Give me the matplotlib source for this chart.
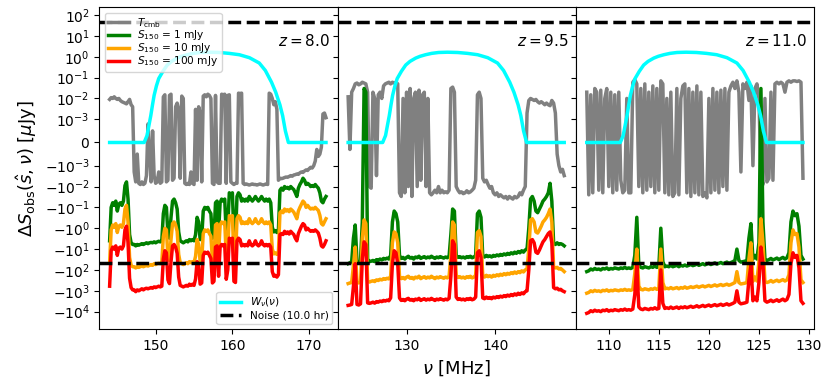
import numpy as np
import matplotlib
matplotlib.use('Agg')
import matplotlib.pyplot as plt
from matplotlib.ticker import FixedLocator, NullLocator

# ---------------- data ----------------
redshifts = ['8.0', '9.5', '11.0']
nu_start = [144.0, 123.4, 107.8]          # MHz, first channel of each panel
nu_step = 0.2                              # MHz channel spacing
window_edges = [(148.5, 167.3), (127.3, 143.55), (111.15, 125.75)]
noise_level = 44.0                         # muJy (10.0 hr)
xlims = [(142.65, 173.7), (122.2, 149.1), (106.7, 130.5)]
xticks_list = [[150, 160, 170], [130, 140], [110, 115, 120, 125, 130]]
yticks = [1e2, 1e1, 1e0, 1e-1, 1e-2, 1e-3, 0, -1e-3, -1e-2, -1e-1, -1e0, -1e1, -1e2, -1e3, -1e4]

# window W_nu: fractional position across window and value
w_frac = [0, 0.02, 0.035, 0.046, 0.058, 0.069, 0.085, 0.101, 0.13, 0.16, 0.19,
          0.229, 0.26, 0.298, 0.34, 0.388, 0.45, 0.521, 0.59, 0.66, 0.73,
          0.798, 0.84, 0.883, 0.912, 0.941, 0.96, 0.979, 1.0]
w_val = [0, 0.0003, 0.0008, 0.0015, 0.005, 0.014, 0.04, 0.09, 0.2, 0.4, 0.6,
         0.86, 1.05, 1.25, 1.45, 1.6, 1.65, 1.6, 1.45, 1.25, 0.9,
         0.5, 0.22, 0.06, 0.02, 0.005, 0.0015, 0.0005, 0]

# ---- panel 1 (z = 8.0) ----
tcmb_p1 = [0.009, 0.011, 0.010, 0.012, 0.010, 0.009, 0.010, 0.008, 0.007, 0.0065,
           0.006, 0.0055, 0.007, 0.009, 0.005, 0.004, -0.002, -0.006, -0.0005, -0.007,
           -0.008, -0.006, -0.008, -0.007, -0.003, 0.0008, -0.0005, -0.006, 0.0005, -0.003,
           -0.007, -0.006, -0.002, -0.007, -0.006, 0.012, 0.015, -0.006, -0.005, 0.014,
           0.016, -0.005, -0.004, 0.004, 0.006, 0.003, -0.004, 0.013, 0.010, -0.007,
           -0.008, -0.007, -0.008, -0.002, -0.007, -0.008, 0.003, -0.005, 0.004, 0.002,
           -0.006, 0.013, 0.015, 0.012, 0.016, 0.014, 0.010, -0.007, -0.008, 0.014,
           -0.006, -0.007, -0.007, 0.016, 0.015, 0.016, -0.007, 0.014, 0.015, -0.006,
           -0.007, -0.008, -0.007, -0.007, 0.018, 0.017, 0.018, -0.007,
           -0.008, -0.0075, -0.008, -0.0085, -0.008, -0.0075, -0.008, -0.008,
           -0.0085, -0.008, -0.0075, -0.008, -0.0085, -0.008, -0.0075, -0.008,
           0.018, 0.016, 0.01, 0.005, 0.007, 0.003, -0.005, -0.004,
           -0.0042, -0.004, -0.0037, -0.0035, -0.0036, -0.0033, -0.003, -0.0032, -0.0028, -0.0027,
           -0.0025, -0.0026, -0.0022, -0.002, -0.0021, -0.0018, -0.0016, -0.0017, -0.0014, -0.0012,
           -0.0013, -0.001, -0.0008, -0.0003, -0.0006, -0.0005, -0.0002, 0.0018, 0.002, 0.0012]
s1_p1 = [-4, -0.1, -0.06, -0.08, -0.05, -0.15, -0.07, -0.06, -0.08, -0.05,
         -0.009, -0.006, -0.04, -2, -5, -6, -6, -7, -6, -6.5,
         -6, -5.5, -6, -5.5, -5, -5.5, -5, -4.8, -5, -4.5,
         -5, -4.5, -4.2, -4.5, -4, -0.2, -0.08, -0.1, -2, -3,
         -0.3, -0.05, -0.04, -0.06, -0.12, -1.5, -4, -4.5, -5, -4.5,
         -4, -4.5, -3.5, -4, -3.5, -4, -2, -0.3, -0.5, -3.5,
         -3, -0.15, -0.1, -0.12, -0.1, -0.15, -0.2, -3, -2.5, -0.06,
         -0.05, -1.5, -0.06, -0.04, -0.05, -0.04, -2, -0.8, -0.02, -0.025,
         -0.02, -2.5, -3, -0.03, -0.02, -0.025, -0.05, -0.04, -0.05, -0.04,
         -0.05, -0.03, -0.04, -0.05, -0.04, -0.03, -0.04, -0.05, -0.04, -0.03,
         -0.04, -0.05, -0.04, -0.05, -0.04, -0.06, -0.9, -1.5, -1.3, -1.6,
         -1.2, -0.015, -0.012, -0.015, -0.01, -0.012, -0.011, -0.013, -0.01, -0.012,
         -0.014, -0.02, -0.03, -0.012, -0.008, -0.006, -0.004, -0.005, -0.008, -0.007,
         -0.008, -0.01, -0.009, -0.01, -0.008, -0.01, -0.012, -0.02, -0.05, -0.06,
         -0.04, -0.03]
s10_p1 = [-45, -1.2, -0.7, -0.9, -0.6, -1.6, -0.8, -0.7, -0.9, -0.6,
          -0.12, -0.08, -0.5, -25, -60, -70, -70, -80, -70, -75,
          -70, -65, -70, -65, -60, -65, -60, -55, -60, -50,
          -55, -50, -48, -50, -45, -2.5, -1, -1.2, -25, -35,
          -3.5, -0.6, -0.5, -0.7, -1.4, -18, -45, -50, -55, -50,
          -45, -50, -40, -45, -40, -45, -22, -3.5, -6, -40,
          -35, -1.8, -1.2, -1.4, -1.2, -1.8, -2.4, -35, -30, -0.7,
          -0.6, -18, -0.7, -0.5, -0.6, -0.5, -24, -9, -0.25, -0.3,
          -0.25, -30, -35, -0.35, -0.25, -0.3, -0.6, -0.5, -0.6, -0.5,
          -0.6, -0.35, -0.5, -0.6, -0.5, -0.35, -0.5, -0.6, -0.5, -0.35,
          -0.5, -0.6, -0.5, -0.6, -0.5, -0.7, -10, -17, -15, -18,
          -14, -0.18, -0.15, -0.18, -0.12, -0.15, -0.13, -0.16, -0.12, -0.14,
          -0.17, -0.24, -0.35, -0.15, -0.1, -0.07, -0.05, -0.06, -0.1, -0.08,
          -0.1, -0.12, -0.11, -0.12, -0.1, -0.12, -0.14, -0.24, -0.6, -0.7,
          -0.5, -0.35]
s100_p1 = [-600, -12, -8, -10, -7, -20, -9, -8, -10, -7,
           -1.2, -0.8, -5, -250, -700, -900, -900, -1100, -900, -1000,
           -900, -800, -900, -800, -750, -800, -750, -700, -750, -650,
           -700, -650, -600, -650, -600, -30, -12, -15, -300, -450,
           -40, -7, -6, -8, -16, -220, -550, -600, -650, -600,
           -550, -600, -480, -550, -480, -550, -270, -40, -65, -480,
           -420, -20, -14, -16, -14, -20, -28, -420, -350, -8,
           -7, -200, -8, -6, -7, -6, -280, -100, -3, -3.5,
           -3, -350, -400, -4, -3, -3.5, -7, -6, -7, -6,
           -7, -4, -6, -7, -6, -4, -6, -7, -6, -4,
           -6, -7, -6, -7, -6, -8, -120, -200, -180, -220,
           -170, -2, -1.8, -2, -1.4, -1.8, -1.5, -1.9, -1.4, -1.7,
           -2, -3, -4, -1.8, -1.2, -0.8, -0.6, -0.7, -1.2, -1,
           -1.2, -1.4, -1.3, -1.4, -1.2, -1.4, -1.7, -3, -7, -8,
           -6, -4]

# ---- panel 2 (z = 9.5) ----
tcmb_p2 = [0.012, -0.0003, 0.02, 0.03, 0.05, 0.055, 0.045, 0.05, 0.06, 0.055,
           0.05, 0.02, -0.01, -0.012, 0.02, 0.01, -0.003, 0.015, 0.02, 0.01,
           0.04, 0.05, 0.055, 0.06, 0.05, 0.06, 0.055, 0.06, 0.05, -0.02,
           -0.03, 0.01, -0.02, 0.02, -0.01, 0.03, -0.03, 0.01, 0.02, -0.01,
           0.025, -0.005, 0.015, 0.02, -0.01, 0.01, -0.02, -0.025, -0.02, -0.015,
           -0.02, -0.01, -0.02, -0.015, -0.02, -0.018, -0.02, -0.015, 0.03, 0.035,
           0.02, -0.01, -0.015, -0.02, -0.018, -0.022, -0.02, -0.016, -0.02, -0.018,
           -0.015, -0.012, -0.005, 0.015, 0.02, 0.01, -0.004, -0.006, -0.005, -0.008,
           -0.012, -0.01, -0.02, -0.025, -0.02, -0.03, -0.025, -0.03, -0.035, -0.03,
           -0.04, -0.03, -0.035, -0.04, -0.03, -0.035, -0.03, -0.02, -0.025, -0.015,
           -0.01, 0.002, 0.008, 0.01, 0.009, 0.008, 0.009, 0.007, 0.006, 0.007,
           0.006, 0.005, 0.006, 0.005, 0.0045, 0.008, 0.006, 0.002, -0.0005, -0.001,
           -0.002, -0.0015, -0.003]
s1_p2 = [-50, -45, -40, -3, -0.7, -40, -45, -35, -0.5, 0.03,
         0.02, -30, -40, -38, -35, -40, -32, -35, -30, -33,
         -28, -30, -27, -30, -20, -0.5, -0.15, -0.2, -0.5, -20,
         -28, -25, -30, -25, -22, -27, -25, -30, -24, -26,
         -22, -28, -25, -23, -27, -24, -26, -22, -25, -28,
         -24, -26, -23, -25, -27, -24, -26, -22, -2, -0.12,
         -0.15, -20, -25, -23, -26, -24, -27, -23, -25, -22,
         -26, -24, -20, -0.2, -0.15, -0.3, -22, -24, -20, -23,
         -21, -24, -20, -22, -19, -21, -18, -20, -17, -19,
         -16, -18, -15, -17, -14, -16, -13, -15, -12, -14,
         -11, -10, -1, -0.04, -0.03, -0.05, -0.15, -0.18, -0.12, -0.08,
         -0.05, -0.04, -0.03, -0.02, -0.007, -0.05, -5, -6, -5, -6,
         -5.5, -6, -7]
s10_p2 = [-450, -420, -400, -60, -8, -400, -420, -380, -3, -0.4,
          -0.6, -350, -380, -350, -330, -360, -300, -320, -280, -300,
          -260, -280, -250, -270, -200, -5, -1.5, -1.8, -5, -200,
          -260, -230, -270, -220, -200, -250, -230, -270, -220, -240,
          -200, -260, -230, -210, -250, -220, -240, -200, -230, -260,
          -220, -240, -210, -230, -250, -220, -240, -200, -20, -0.5,
          -0.7, -180, -230, -210, -240, -220, -250, -210, -230, -200,
          -240, -220, -180, -1.6, -1.3, -2.5, -200, -220, -180, -210,
          -190, -220, -180, -200, -170, -190, -160, -180, -150, -170,
          -145, -160, -135, -150, -125, -145, -120, -135, -110, -125,
          -100, -90, -10, -0.4, -0.35, -0.5, -1.5, -1.7, -1.2, -0.8,
          -0.5, -0.4, -0.3, -0.2, -0.12, -0.5, -70, -80, -75, -90,
          -85, -100, -120]
s100_p2 = [-5000, -4800, -4500, -600, -50, -4500, -4800, -4200, -30, -4.5,
           -6, -3800, -4000, -3800, -3500, -3900, -3300, -3500, -3100, -3300,
           -2900, -3100, -2800, -3000, -2200, -50, -12, -15, -50, -2200,
           -2900, -2600, -3000, -2500, -2300, -2800, -2600, -3000, -2500, -2700,
           -2300, -2900, -2600, -2400, -2800, -2500, -2700, -2300, -2600, -2900,
           -2500, -2700, -2400, -2600, -2800, -2500, -2700, -2300, -200, -4,
           -6, -2000, -2600, -2400, -2700, -2500, -2800, -2400, -2600, -2300,
           -2700, -2500, -2000, -15, -12, -25, -2200, -2400, -2000, -2300,
           -2100, -2400, -2000, -2200, -1900, -2100, -1800, -2000, -1700, -1900,
           -1600, -1800, -1500, -1700, -1400, -1600, -1300, -1500, -1250, -1400,
           -1100, -1000, -100, -4, -3.5, -5, -14, -16, -11, -7,
           -4.5, -3.5, -2.5, -1.8, -1.5, -5, -700, -800, -750, -900,
           -850, -1000, -1100]

# ---- panel 3 (z = 11.0) ----
tcmb_p3 = [0.02, -0.025, 0.015, -0.02, 0.03, 0.02, -0.015, 0.025, -0.02, 0.01,
           0.03, -0.01, 0.02, -0.02, 0.015, -0.015, 0.02, -0.005, -0.02, -0.015,
           0.01, -0.02, -0.02, 0.06, 0.08, 0.05, -0.01, 0.03, -0.02, 0.05,
           -0.015, 0.02, -0.01, 0.04, -0.02, 0.03, -0.015, 0.07, 0.05, -0.02,
           0.01, -0.025, 0.02, -0.03, -0.02, 0.03, -0.025, 0.01, 0.04, 0.05,
           -0.02, 0.03, -0.03, 0.02, -0.02, 0.04, -0.025, 0.02, -0.03, -0.02,
           -0.035, 0.01, -0.02, 0.03, -0.015, 0.02, -0.02, 0.025, -0.01, 0.03,
           -0.015, 0.02, 0.04, 0.06, 0.03, 0.07, 0.02, -0.002, 0.05, 0.03,
           0.06, 0.008, 0.04, -0.001, 0.03, 0.05, 0.01, -0.003, -0.008, 0.01,
           -0.006, -0.004, 0.02, -0.005, 0.05, 0.06, 0.05, 0.06, 0.05, 0.02,
           0.06, 0.07, 0.06, 0.07, 0.07, 0.065, 0.07, 0.06, -0.004]
s1_p3 = [-120, -110, -90, -100, -85, -95, -90, -100, -85, -90,
         -80, -95, -85, -90, -80, -85, -90, -80, -85, -75,
         -85, -80, -85, -75, -20, -0.3, -60, -75, -80, -70,
         -75, -80, -70, -75, -65, -75, -70, -1, -40, -70,
         -65, -70, -60, -70, -65, -60, -70, -60, -65, -58,
         -65, -60, -55, -62, -58, -52, -60, -55, -50, -57,
         -52, -48, -55, -50, -46, -52, -48, -44, -50, -46,
         -42, -48, -44, -40, -35, -10, -35, -42, -40, -38,
         -35, -3, -0.6, -30, -20, -30, -5, 0.03, -0.5, -30,
         -35, -32, -28, -33, -30, -27, -32, -28, -25, -30,
         -26, -15, -0.5, -0.15, -0.25, -0.2, -0.8, -20, -30]
s10_p3 = [-1300, -1200, -1000, -1100, -950, -1050, -1000, -1100, -950, -1000,
          -900, -1050, -950, -1000, -900, -950, -1000, -900, -950, -850,
          -950, -900, -950, -850, -150, -10, -600, -850, -900, -800,
          -850, -900, -800, -850, -750, -850, -800, -10, -400, -800,
          -750, -800, -700, -800, -750, -700, -800, -700, -750, -650,
          -750, -700, -640, -700, -650, -600, -680, -620, -580, -650,
          -600, -550, -620, -570, -520, -590, -540, -500, -560, -520,
          -480, -540, -500, -450, -400, -120, -400, -470, -450, -430,
          -400, -30, -5, -350, -220, -340, -40, -0.35, -5, -350,
          -400, -370, -320, -380, -340, -310, -360, -320, -290, -340,
          -300, -170, -5, -1.2, -2, -1.8, -8, -300, -400]
s100_p3 = [-12000, -11000, -9000, -10000, -8500, -9500, -9000, -10000, -8500, -9000,
           -8000, -9500, -8500, -9000, -8000, -8500, -9000, -8000, -8500, -7500,
           -8500, -8000, -8500, -7500, -1500, -60, -6000, -7500, -8000, -7000,
           -7500, -8000, -7000, -7500, -6500, -7500, -7000, -100, -4000, -7000,
           -6500, -7000, -6000, -7000, -6500, -6000, -7000, -6000, -6500, -5800,
           -6500, -6000, -5500, -6200, -5800, -5200, -6000, -5500, -5000, -5700,
           -5200, -4800, -5500, -5000, -4600, -5200, -4800, -4400, -5000, -4600,
           -4200, -4800, -4400, -4000, -3500, -1000, -3500, -4200, -4000, -3800,
           -3500, -300, -60, -3000, -2000, -3000, -400, -8, -50, -3000,
           -3500, -3200, -2800, -3300, -3000, -2700, -3200, -2800, -2500, -3000,
           -2600, -1500, -50, -15, -25, -20, -80, -3000, -4000]

tcmb_all = [tcmb_p1, tcmb_p2, tcmb_p3]
s1_all = [s1_p1, s1_p2, s1_p3]
s10_all = [s10_p1, s10_p2, s10_p3]
s100_all = [s100_p1, s100_p2, s100_p3]

# ---------------- figure ----------------
fig, axes = plt.subplots(1, 3, sharey=True, figsize=(8.3, 3.88), dpi=100)
fig.subplots_adjust(left=0.1196, right=0.9807, top=0.9812, bottom=0.1513, wspace=0)

lw = 2.5
for i, ax in enumerate(axes):
    n = len(tcmb_all[i])
    nu = nu_start[i] + nu_step * np.arange(n)
    h_t, = ax.plot(nu, tcmb_all[i], color='gray', lw=lw, label=r'$T_{\rm cmb}$')
    h_1, = ax.plot(nu, s1_all[i], color='green', lw=lw, label=r'$S_{150}$ = 1 mJy')
    h_10, = ax.plot(nu, s10_all[i], color='orange', lw=lw, label=r'$S_{150}$ = 10 mJy')
    h_100, = ax.plot(nu, s100_all[i], color='red', lw=lw, label=r'$S_{150}$ = 100 mJy')
    lo, hi = window_edges[i]
    nu_w = [nu[0]] + [lo + (hi - lo) * f for f in w_frac] + [nu[-1]]
    wv = [0] + w_val + [0]
    h_w, = ax.plot(nu_w, wv, color='cyan', lw=lw, label=r'$W_\nu(\nu)$')
    h_n = ax.axhline(noise_level, color='k', ls='--', lw=lw, label='Noise (10.0 hr)')
    ax.axhline(-noise_level, color='k', ls='--', lw=lw)

    ax.set_yscale('symlog', linthresh=1e-3, linscale=1)
    ax.set_xlim(*xlims[i])
    ax.set_xticks(xticks_list[i])
    ax.tick_params(labelsize=10)
    ax.text(0.97, 0.895, r'$z = %s$' % redshifts[i], transform=ax.transAxes,
            ha='right', va='center', fontsize=11)
    if i == 0:
        leg1 = ax.legend(handles=[h_t, h_1, h_10, h_100], loc='upper left',
                         fontsize=7.6, labelspacing=-0.1, borderpad=0.3)
        ax.add_artist(leg1)
        ax.legend(handles=[h_w, h_n], loc='lower right', fontsize=7.6,
                  labelspacing=0.1, borderpad=0.35)

ax0 = axes[0]
ax0.set_ylim(-7e4, 2.35e2)
ax0.yaxis.set_major_locator(FixedLocator(yticks))
ax0.yaxis.set_minor_locator(NullLocator())
ax0.set_ylabel(r'$\Delta S_{\rm obs}(\hat{s},\nu)$ [$\mu$Jy]', fontsize=13)
axes[1].set_xlabel(r'$\nu$ [MHz]', fontsize=13)

fig.savefig('out.png', dpi=100)
